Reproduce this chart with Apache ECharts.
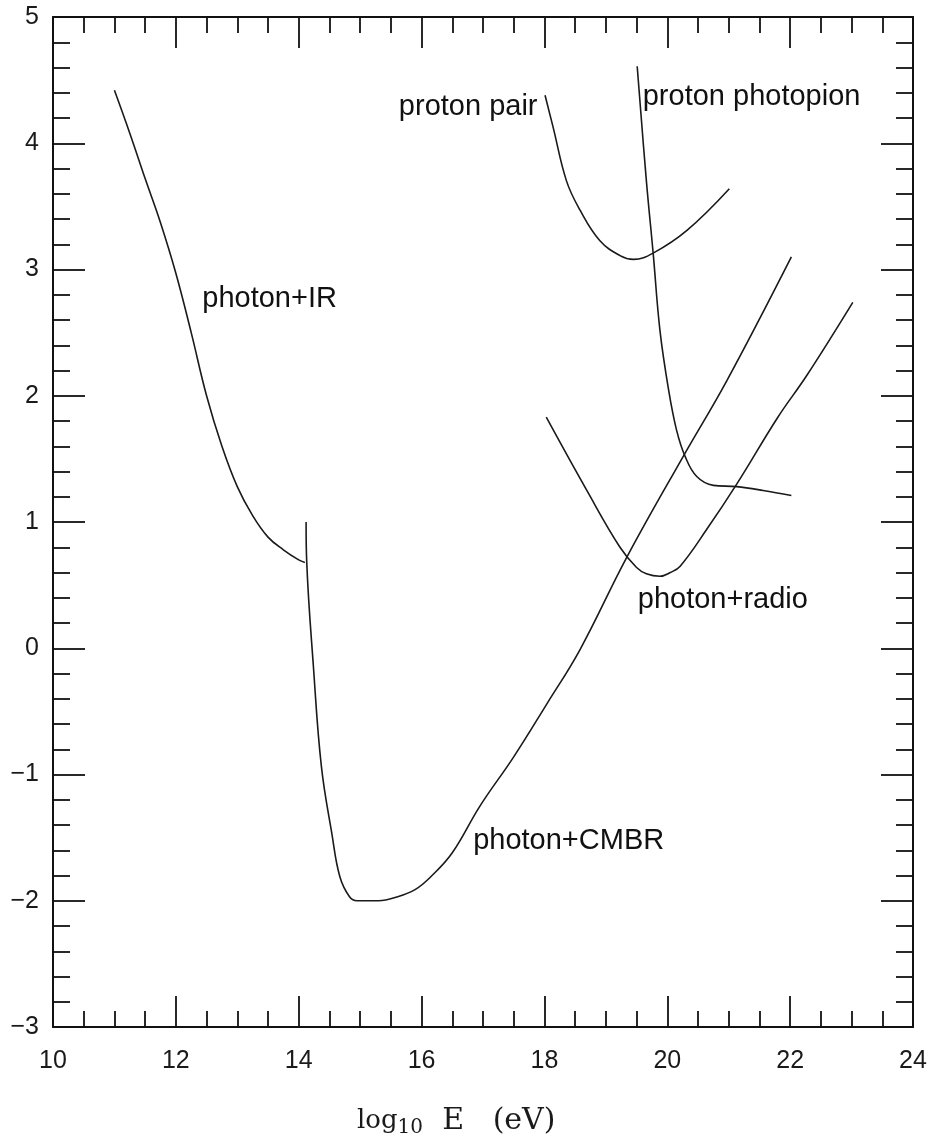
<!DOCTYPE html>
<html>
<head>
<meta charset="utf-8">
<script src="https://cdn.jsdelivr.net/npm/echarts@6/dist/echarts.min.js"></script>
<style>html,body{margin:0;padding:0;background:#fff}#c{width:932px;height:1145px}</style>
</head>
<body>
<div id="c"></div>
<script>
// Data (x = log10 E (eV), y = log10 attenuation length)
const photonIR = [[11.0,4.42],[11.25,4.08],[11.5,3.72],[11.75,3.37],[12.0,2.97],[12.25,2.5],[12.5,2.0],[12.75,1.6],[13.0,1.28],[13.25,1.05],[13.5,0.88],[13.75,0.78],[14.0,0.70],[14.1,0.68]];
const photonCMBR = [[14.12,1.0],[14.13,0.69],[14.24,-0.15],[14.37,-0.94],[14.54,-1.47],[14.67,-1.81],[14.83,-1.97],[14.95,-2.0],[15.3,-2.0],[15.6,-1.97],[15.9,-1.91],[16.15,-1.81],[16.5,-1.62],[16.95,-1.25],[17.5,-0.86],[18.04,-0.44],[18.58,-0.01],[19.34,0.72],[20.26,1.52],[20.97,2.12],[22.02,3.10]];
const photonRadio = [[18.03,1.83],[18.69,1.25],[19.23,0.80],[19.5,0.64],[19.66,0.59],[19.88,0.57],[20.05,0.60],[20.21,0.65],[20.64,0.94],[21.13,1.30],[21.8,1.83],[22.27,2.16],[23.02,2.74]];
const protonPair = [[18.01,4.38],[18.14,4.13],[18.36,3.70],[18.58,3.47],[18.90,3.23],[19.23,3.11],[19.45,3.08],[19.77,3.13],[20.32,3.31],[21.01,3.64]];
const protonPhotopion = [[19.51,4.61],[19.66,3.70],[19.77,3.13],[19.88,2.52],[20.02,2.05],[20.15,1.73],[20.29,1.52],[20.48,1.36],[20.75,1.29],[21.13,1.28],[21.56,1.25],[22.02,1.21]];
const curveLabels = [
  {name:'photon+IR', value:[12.43,2.77]},
  {name:'proton pair', value:[15.63,4.29]},
  {name:'proton photopion', value:[19.60,4.37]},
  {name:'photon+radio', value:[19.52,0.38]},
  {name:'photon+CMBR', value:[16.84,-1.53]}
];
const xMin = 10, xMax = 24, xStep = 2;
const yMin = -3, yMax = 5, yStep = 1;

const chart = echarts.init(document.getElementById('c'));
const lineCol = '#1a1a1a';
const axisBase = {
  axisLine:{show:true, onZero:false, lineStyle:{color:'#111', width:2}},
  splitLine:{show:false}
};
function xAx(pos, showLabel){
  return Object.assign({}, axisBase, {
    type:'value', position:pos, min:xMin, max:xMax, interval:xStep,
    axisTick:{show:true, inside:true, length:31, lineStyle:{color:'#111', width:1.8}},
    minorTick:{show:true, splitNumber:4, length:16, lineStyle:{color:'#111', width:1.8}},
    minorSplitLine:{show:false},
    axisLabel:{show:showLabel, margin:22, fontSize:25, color:'#1a1a1a', fontFamily:'Liberation Sans, Arial, sans-serif'}
  });
}
function yAx(pos, showLabel){
  return Object.assign({}, axisBase, {
    type:'value', position:pos, min:yMin, max:yMax, interval:yStep,
    axisTick:{show:true, inside:true, length:32, lineStyle:{color:'#111', width:1.8}},
    minorTick:{show:true, splitNumber:5, length:17, lineStyle:{color:'#111', width:1.8}},
    minorSplitLine:{show:false},
    axisLabel:{show:showLabel, margin:14, fontSize:25, color:'#1a1a1a', fontFamily:'Liberation Sans, Arial, sans-serif',
      formatter: v => String(v).replace('-', '\u2212')}
  });
}
function lineSeries(name, data){
  return {name, type:'line', data, xAxisIndex:0, yAxisIndex:0, smooth:0.4, showSymbol:false, symbol:'none',
    lineStyle:{color:lineCol, width:1.6}, silent:true, animation:false};
}
chart.setOption({
  animation:false,
  backgroundColor:'#fff',
  grid:{left:53, right:19, top:17, bottom:118, containLabel:false},
  xAxis:[xAx('bottom', true), xAx('top', false)],
  yAxis:[yAx('left', true), yAx('right', false)],
  series:[
    lineSeries('photon+IR', photonIR),
    lineSeries('photon+CMBR', photonCMBR),
    lineSeries('photon+radio', photonRadio),
    lineSeries('proton pair', protonPair),
    lineSeries('proton photopion', protonPhotopion),
    {type:'scatter', data:curveLabels, symbolSize:0, silent:true, itemStyle:{opacity:1},
     label:{show:true, position:'right', distance:0, formatter:'{b}', fontSize:29, color:'#111', opacity:1,
       fontFamily:'Liberation Sans, Arial, sans-serif'}}
  ],
  graphic:[{
    type:'text', left:357, top:1106,
    style:{
      text:'{a|log}{s|10}{b|  E   (eV)}',
      rich:{
        a:{fontSize:26, fontFamily:'DejaVu Serif, Liberation Serif, serif', fill:'#1a1a1a'},
        s:{fontSize:20, fontFamily:'DejaVu Serif, Liberation Serif, serif', fill:'#1a1a1a', padding:[14,0,0,0]},
        b:{fontSize:30, fontFamily:'DejaVu Serif, Liberation Serif, serif', fill:'#1a1a1a'}
      }
    }
  }]
});
</script>
</body>
</html>
